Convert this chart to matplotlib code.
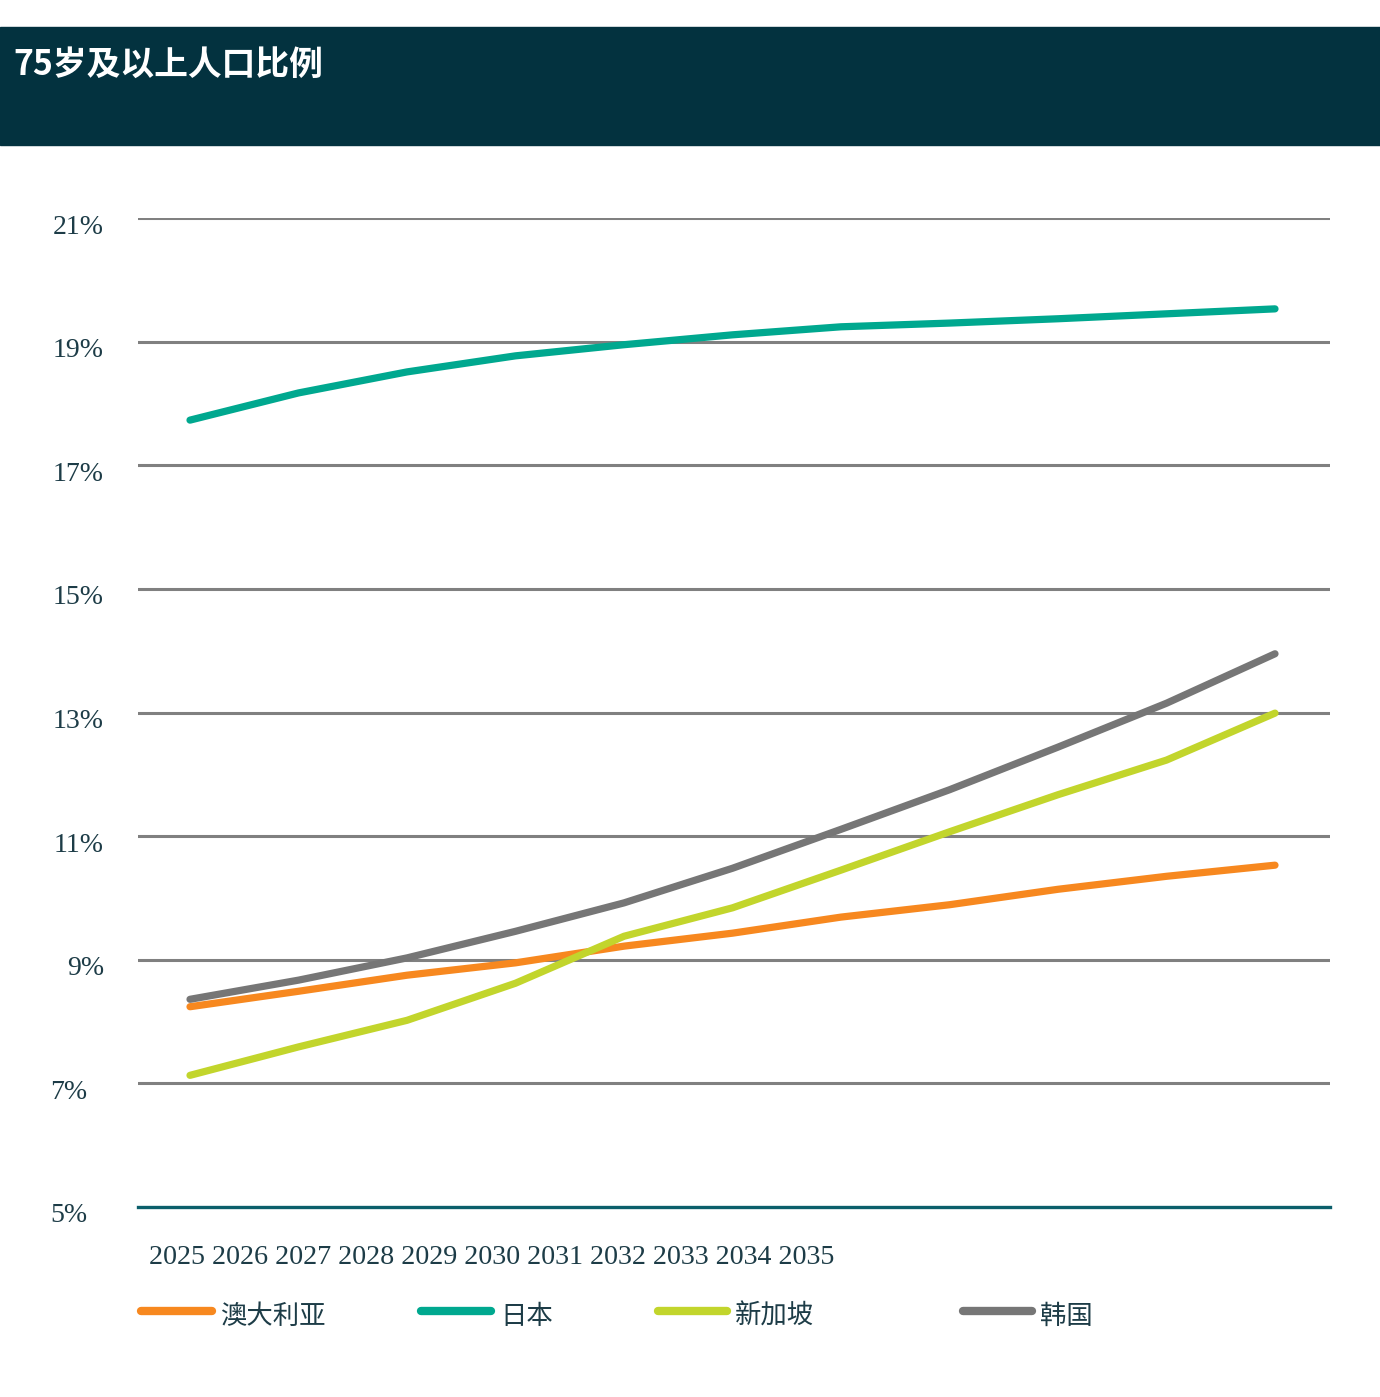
import matplotlib.pyplot as plt
import matplotlib.transforms as mtransforms
from matplotlib.patches import Rectangle
from matplotlib.lines import Line2D

years = ["2025", "2026", "2027", "2028", "2029", "2030", "2031", "2032", "2033", "2034", "2035"]
australia = [8.24, 8.49, 8.75, 8.95, 9.22, 9.43, 9.69, 9.89, 10.14, 10.35, 10.53]
japan = [17.73, 18.17, 18.51, 18.77, 18.95, 19.11, 19.24, 19.30, 19.37, 19.45, 19.53]
singapore = [7.13, 7.59, 8.02, 8.62, 9.38, 9.84, 10.45, 11.07, 11.67, 12.23, 12.99]
korea = [8.36, 8.67, 9.03, 9.46, 9.92, 10.48, 11.11, 11.75, 12.44, 13.15, 13.95]
names = ["澳大利亚", "日本", "新加坡", "韩国"]
colors = ["#f7881f", "#00a88f", "#c2d52c", "#767676"]
yticks = [5, 7, 9, 11, 13, 15, 17, 19, 21]

W, H = 1380, 1397
fig = plt.figure(figsize=(W / 100, H / 100), dpi=100)
txt = "#1d3c47"
serif = "Liberation Serif"

# header band
fig.patches.append(Rectangle((0, 1 - 145 / H), 1, 118 / H, transform=fig.transFigure,
                             color="#03323f", zorder=0))
fig.text(13 / W, 1 - 64 / H, "75岁及以上人口比例", color="white", fontsize=24.3,
         fontweight="bold", family=["Noto Sans CJK SC", "DejaVu Sans"], va="center")

ax = fig.add_axes([138 / W, 1 - 1207 / H, (1330 - 138) / W, (1207 - 218) / H])
x = list(range(len(years)))
ax.set_xlim(-52 / 108.5, 10 + 55 / 108.5)
ax.set_ylim(5, 21)

for yv in yticks[1:]:
    ax.axhline(yv, color="#808080", lw=2.2, zorder=1)
ax.axhline(5, color="#0b5f6b", lw=2.4, zorder=1, clip_on=False)

for vals, c in zip([australia, japan, singapore, korea], colors):
    ax.plot(x, vals, color=c, lw=5.2, solid_capstyle="round",
            solid_joinstyle="round", zorder=3)

for s in ax.spines.values():
    s.set_visible(False)
ax.set_xticks([])
ax.set_yticks(yticks)
ax.set_yticklabels([f"{v}%" for v in yticks], fontsize=20, family=serif, color=txt)
ax.tick_params(axis="y", length=0, pad=24.5)
for lab, v in zip(ax.get_yticklabels(), yticks):
    dx = -17 / 100 if v in (5, 7) else 0
    lab.set_transform(lab.get_transform() +
                      mtransforms.ScaledTranslation(dx, -6 / 100, fig.dpi_scale_trans))

# year labels run together at the left, as in the original
fig.text(149 / W, 1 - 1257 / H, " ".join(years), fontsize=20.15, family=serif,
         color=txt, va="center", ha="left")

# legend
leg_x = [(138, 215, 220), (418, 494, 500), (655, 730, 735), (960, 1035, 1040)]
for (x0, x1, tx), name, c in zip(leg_x, names, colors):
    fig.add_artist(Line2D([(x0 + 3) / W, (x1 - 3) / W], [1 - 1310.5 / H] * 2, color=c, lw=6,
                          solid_capstyle="round", transform=fig.transFigure))
    fig.text(tx / W, 1 - 1316 / H, name, fontsize=19, color=txt,
             family=["Noto Sans CJK SC", "DejaVu Sans"], fontweight="light",
             va="center", ha="left")

fig.savefig("out.png", dpi=100)
